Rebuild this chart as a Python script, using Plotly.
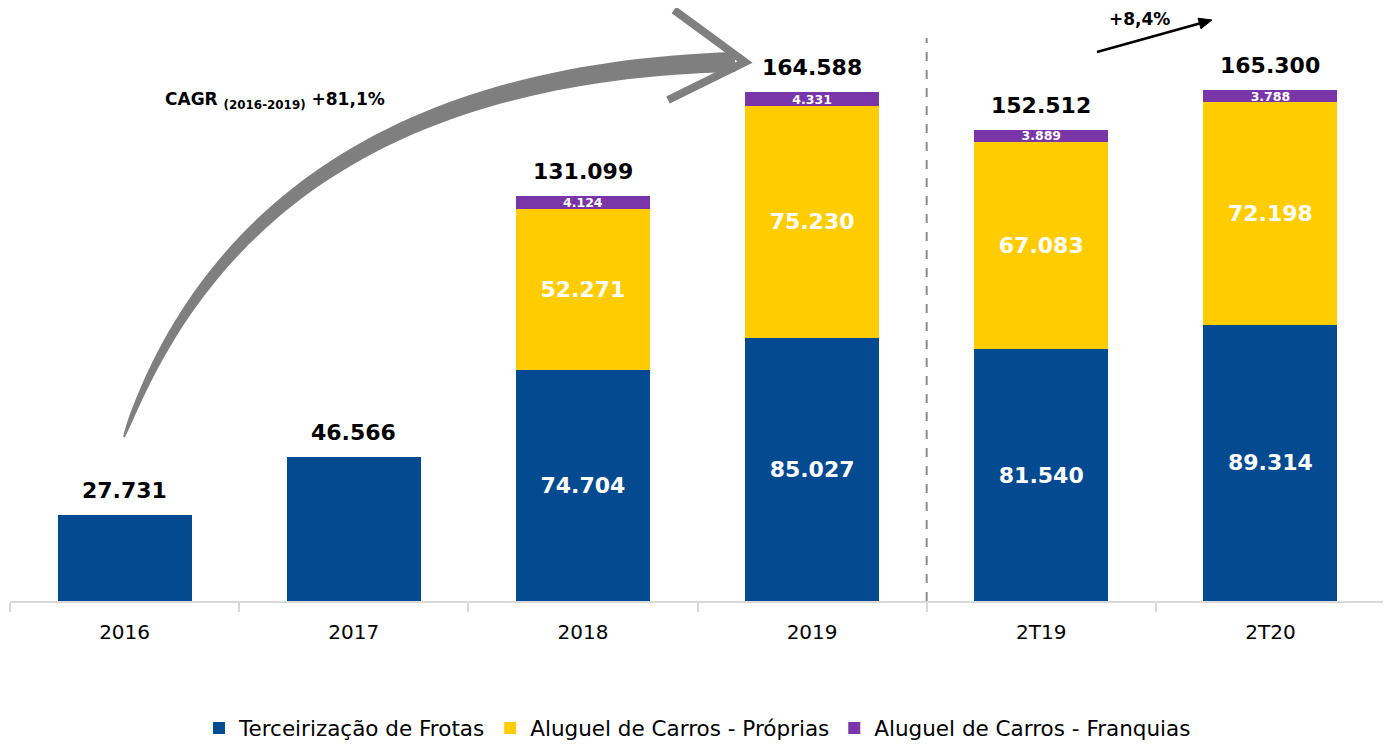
import numpy as np
import plotly.graph_objects as go

# ---------------- data ----------------
categories = ["2016", "2017", "2018", "2019", "2T19", "2T20"]
terceirizacao = [27731, 46566, 74704, 85027, 81540, 89314]
aluguel_proprias = [0, 0, 52271, 75230, 67083, 72198]
aluguel_franquias = [0, 0, 4124, 4331, 3889, 3788]
totals = [27731, 46566, 131099, 164588, 152512, 165300]
show_inner_blue = [False, False, True, True, True, True]

series_names = ["Terceirização de Frotas", "Aluguel de Carros - Próprias", "Aluguel de Carros - Franquias"]
colors = ["#044A91", "#FFCC00", "#7A35A8"]

cagr_text = "<b>CAGR <sub>(2016-2019)</sub> +81,1%</b>"
growth_text = "<b>+8,4%</b>"


def fmt(v):
    return f"{v:,}".replace(",", ".")


# ---------------- layout geometry ----------------
OFF = 8                      # page body margin of the html page
W, H = 1391 - OFF, 746
ML, MR, MT = 10 - OFF, 6, 20 - OFF
BASE = 601 - OFF             # figure y of the axis line
MB = H - BASE
PW, PH = W - ML - MR, H - MT - MB
YMAX = 188000


def px(x):
    """screen x -> paper x"""
    return (x - OFF - ML) / PW


def py(y):
    """screen y -> paper y"""
    return (BASE - (y - OFF)) / PH


def to_path(points, close=False):
    s = "M " + " L ".join(f"{px(x):.5f},{py(y):.5f}" for x, y in points)
    return s + (" Z" if close else "")


fig = go.Figure()

blue_text = [fmt(v) if s else "" for v, s in zip(terceirizacao, show_inner_blue)]
yellow_text = [fmt(v) if v else "" for v in aluguel_proprias]
purple_text = [fmt(v) if v else "" for v in aluguel_franquias]

for vals, txt, name, col, fs in zip(
    [terceirizacao, aluguel_proprias, aluguel_franquias],
    [blue_text, yellow_text, purple_text],
    series_names,
    colors,
    [22, 22, 12.5],
):
    fig.add_trace(
        go.Bar(
            x=categories,
            y=vals,
            name=name,
            marker=dict(color=col, line=dict(width=0)),
            text=txt,
            textposition=["inside" if s else "none" for s in txt],
            insidetextanchor="middle",
            constraintext="none",
            textangle=0,
            textfont=dict(family="DejaVu Sans", size=fs, color="white", weight="bold"),
            hoverinfo="skip",
        )
    )

# totals above bars (category axis -> annotation x uses the category index)
for i, v in enumerate(totals):
    fig.add_annotation(
        x=i, y=v, xref="x", yref="y", text=f"<b>{fmt(v)}</b>",
        showarrow=False, yanchor="bottom", xanchor="center", yshift=10,
        font=dict(family="DejaVu Sans", size=22, color="black"),
    )

# ---------------- curved growth arrow (decoration) ----------------
P0 = np.array([124.0, 437.0])
C = np.array([255.0, 75.0])
P2 = np.array([735.0, 62.0])
t = np.linspace(0, 1, 60)
pts = ((1 - t) ** 2)[:, None] * P0 + (2 * (1 - t) * t)[:, None] * C + (t ** 2)[:, None] * P2
d = (-2 * (1 - t))[:, None] * P0 + (2 - 4 * t)[:, None] * C + (2 * t)[:, None] * P2
d = d / np.linalg.norm(d, axis=1)[:, None]
nrm = np.stack([-d[:, 1], d[:, 0]], axis=1)
w = 1 + 9 * np.sqrt(t)
poly = np.vstack([pts + nrm * w[:, None], (pts - nrm * w[:, None])[::-1]])
fig.add_shape(type="path", path=to_path(poly, close=True), xref="paper", yref="paper",
              fillcolor="#7F7F7F", line=dict(width=0), layer="above")
fig.add_shape(type="path", path=to_path([(674, 10), (745, 62), (668, 100)]),
              xref="paper", yref="paper",
              line=dict(color="#7F7F7F", width=8), layer="above")

# small straight arrow (+8,4%)
tail, tip = np.array([1097.0, 52.0]), np.array([1212.0, 20.0])
u = (tip - tail) / np.linalg.norm(tip - tail)
n = np.array([-u[1], u[0]])
base_pt = tip - u * 13
fig.add_shape(type="path", path=to_path([tail, base_pt]), xref="paper", yref="paper",
              line=dict(color="black", width=2.5), layer="above")
fig.add_shape(type="path", path=to_path([tip, base_pt + n * 5.5, base_pt - n * 5.5], close=True),
              xref="paper", yref="paper", fillcolor="black",
              line=dict(color="black", width=1), layer="above")

# dashed separator between annual and quarterly data
fig.add_shape(type="line", xref="x", yref="paper", x0=3.5, x1=3.5, y0=0, y1=py(38),
              line=dict(color="#8C8C8C", width=2, dash="dash"))

# text annotations
fig.add_annotation(x=px(275), y=py(100), xref="paper", yref="paper", text=cagr_text,
                   xanchor="center", yanchor="middle",
                   showarrow=False, font=dict(family="DejaVu Sans", size=17, color="black"))
fig.add_annotation(x=px(1139), y=py(19), xref="paper", yref="paper", text=growth_text,
                   xanchor="center", yanchor="middle",
                   showarrow=False, font=dict(family="DejaVu Sans", size=17, color="black"))

fig.update_layout(
    width=W,
    height=H,
    barmode="stack",
    bargap=0.415,
    plot_bgcolor="white",
    paper_bgcolor="white",
    margin=dict(l=ML, r=MR, t=MT, b=MB),
    font=dict(family="DejaVu Sans", size=20, color="black"),
    showlegend=True,
    legend=dict(
        orientation="h",
        x=0.5,
        xanchor="center",
        y=py(728),
        yanchor="middle",
        font=dict(family="DejaVu Sans", size=21.5, color="black"),
        traceorder="normal",
        itemwidth=30,
    ),
    xaxis=dict(
        type="category",
        showline=True,
        linecolor="#D9D9D9",
        linewidth=2,
        ticks="outside",
        tickson="boundaries",
        ticklen=9,
        tickcolor="#D9D9D9",
        tickwidth=2,
        ticklabelstandoff=12,
        tickfont=dict(family="DejaVu Sans", size=20, color="black"),
        showgrid=False,
        zeroline=False,
    ),
    yaxis=dict(range=[0, YMAX], visible=False, showgrid=False, zeroline=False),
)

fig.write_html("out.html")
